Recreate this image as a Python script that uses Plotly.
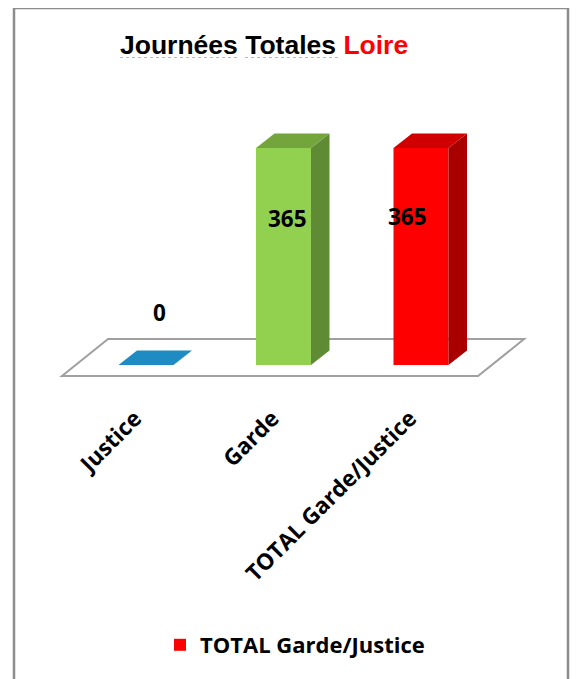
import plotly.graph_objects as go

# ---- data ----
categories = ["Justice", "Garde", "TOTAL Garde/Justice"]
values = [0, 365, 365]
front_colors = ["#1E8BC3", "#92D050", "#FF0000"]
top_colors = ["#1E8BC3", "#74A53C", "#D00000"]
side_colors = ["#17729F", "#5E8B33", "#A80000"]
legend_flags = [False, False, True]

# ---- geometry / style (not data) ----
OFF = 8                      # page body margin compensation
W, H = 581 - OFF, 679 - OFF
PLOT_H = 400 - OFF           # plot area height (px)
BAR_W = 0.4
DX = 0.1345
DY = 24.4
X_RANGE = [-1.0036, 3.1636]
Y_RANGE = [-58.9, 600.5]
label_dx = [0.10, 0.03, -0.10]
label_y = [89, 247, 249]
FONT_B = "Open Sans"


def px(x):
    return (x - OFF) / W


def py(y):
    return (400 - y) / PLOT_H


fig = go.Figure()

n = len(categories)
xs = list(range(n))

for i in range(n):
    fig.add_trace(go.Bar(
        x=[xs[i]], y=[values[i]], width=BAR_W, name=categories[i],
        marker=dict(color=front_colors[i], line=dict(width=0)),
        showlegend=legend_flags[i], hoverinfo="skip",
    ))

for i in range(n):
    v = values[i]
    x0, x1 = xs[i] - BAR_W / 2, xs[i] + BAR_W / 2
    if v > 0:
        fig.add_trace(go.Scatter(
            x=[x1, x1 + DX, x1 + DX, x1, x1],
            y=[0, DY, v + DY, v, 0],
            fill="toself", fillcolor=side_colors[i], mode="lines",
            line=dict(width=0, color=side_colors[i]), showlegend=False, hoverinfo="skip",
        ))
    fig.add_trace(go.Scatter(
        x=[x0, x1, x1 + DX, x0 + DX, x0],
        y=[v, v, v + DY, v + DY, v],
        fill="toself", fillcolor=top_colors[i], mode="lines",
        line=dict(width=0, color=top_colors[i]), showlegend=False, hoverinfo="skip",
    ))

fl, fr = -0.611, (n - 1) + 0.415
fy0, fy1 = -18.5, 43.7
fdx = 0.335
floor_path = f"M{fl},{fy0} L{fr},{fy0} L{fr + fdx},{fy1} L{fl + fdx},{fy1} Z"
shapes = [
    dict(type="path", path=floor_path, xref="x", yref="y", layer="below",
         fillcolor="white", line=dict(color="#A0A0A0", width=2)),
    dict(type="rect", xref="paper", yref="paper",
         x0=px(14), x1=px(568), y0=py(695), y1=py(8),
         line=dict(color="#8C8C8C", width=2.5), fillcolor="rgba(0,0,0,0)", layer="above"),
    # spell-check style underlines under the title words
    dict(type="line", xref="paper", yref="paper", x0=px(120), x1=px(238), y0=py(57.5), y1=py(57.5),
         line=dict(color="#F2A0A0", width=1, dash="dot")),
    dict(type="line", xref="paper", yref="paper", x0=px(245), x1=px(338), y0=py(57.5), y1=py(57.5),
         line=dict(color="#F2A0A0", width=1, dash="dot")),
]

annotations = []
for i in range(n):
    annotations.append(dict(
        x=xs[i] + label_dx[i], y=label_y[i], xref="x", yref="y",
        text=str(values[i]), showarrow=False,
        font=dict(family=FONT_B, size=22.5, color="black", weight="bold"),
    ))
annotations.append(dict(
    x=px(264), y=py(45), xref="paper", yref="paper",
    xanchor="center", yanchor="middle", showarrow=False,
    text="Journées Totales <span style='color:#FF0000'>Loire</span>",
    font=dict(family="Liberation Sans, Arial", size=26.5, color="black", weight="bold"),
))

fig.update_layout(
    template="none",
    width=W, height=H,
    margin=dict(l=0, r=0, t=0, b=H - PLOT_H, pad=0),
    paper_bgcolor="white", plot_bgcolor="white",
    barmode="overlay",
    shapes=shapes, annotations=annotations,
    xaxis=dict(range=X_RANGE, tickvals=[x - 0.08 for x in xs], ticktext=categories,
               tickangle=-45, showgrid=False, zeroline=False, showline=False,
               ticks="", automargin=False, fixedrange=True,
               tickfont=dict(family=FONT_B, size=22.5, color="black", weight="bold")),
    yaxis=dict(range=Y_RANGE, visible=False, showgrid=False, zeroline=False,
               automargin=False, fixedrange=True),
    legend=dict(orientation="h", x=px(295), xanchor="center",
                y=py(645), yanchor="middle",
                font=dict(family=FONT_B, size=22, color="black", weight="bold"),
                bgcolor="rgba(0,0,0,0)"),
    showlegend=True,
)

fig.write_html("out.html", config={"displayModeBar": False})
